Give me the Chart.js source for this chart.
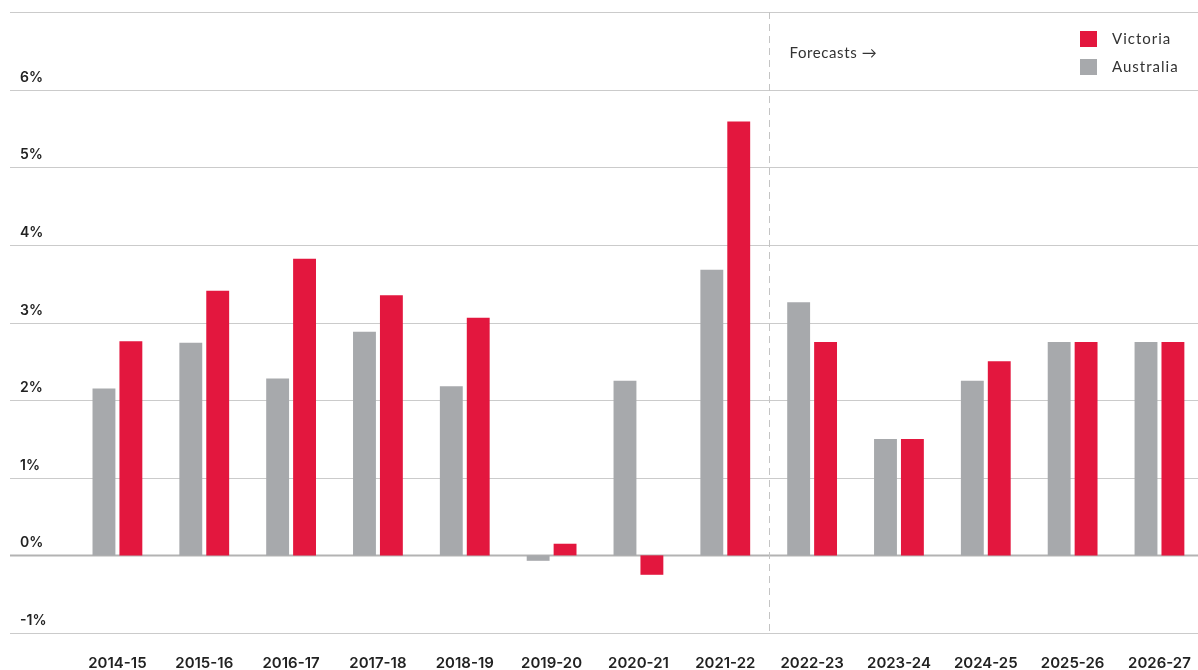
<!DOCTYPE html>
<html>
<head>
<meta charset="utf-8">
<script src="https://cdn.jsdelivr.net/npm/chart.js@4"></script>
<style>
  html, body { margin: 0; padding: 0; background: #fff; overflow: hidden; }
  #growthChart { display: block; }
</style>
</head>
<body>
<canvas id="growthChart" width="1212" height="700"></canvas>
<script>
const years = ['2014-15', '2015-16', '2016-17', '2017-18', '2018-19', '2019-20', '2020-21',
  '2021-22', '2022-23', '2023-24', '2024-25', '2025-26', '2026-27'];
const australia = [2.15, 2.74, 2.28, 2.88, 2.18, -0.07, 2.25, 3.68, 3.26, 1.5, 2.25, 2.75, 2.75];
const victoria = [2.76, 3.41, 3.82, 3.35, 3.06, 0.15, -0.25, 5.59, 2.75, 1.5, 2.5, 2.75, 2.75];
const yTicks = [-1, 0, 1, 2, 3, 4, 5, 6, 7];
const firstForecast = '2022-23';
const forecastLabel = 'Forecasts \u2192';

const RED = '#e3173e';
const GREY = '#a7a9ac';

// gridlines, % labels, forecast divider and legend are drawn by hand
const decorations = {
  id: 'decorations',
  beforeDatasetsDraw(chart) {
    const { ctx } = chart;
    const y = chart.scales.y;
    ctx.save();
    yTicks.forEach(v => {
      const py = Math.round(y.getPixelForValue(v)) + 0.5;
      ctx.beginPath();
      ctx.strokeStyle = v === 0 ? '#b3b3b3' : '#cbcbcb';
      ctx.lineWidth = v === 0 ? 2 : 1;
      ctx.moveTo(10, py);
      ctx.lineTo(1198, py);
      ctx.stroke();
      if (v < 7) {
        ctx.fillStyle = '#222';
        ctx.font = '600 14px Inter';
        ctx.textAlign = 'left';
        ctx.textBaseline = 'middle';
        ctx.fillText(v + '%', 20, py - 13);
      }
    });

    // forecast divider halfway between the last actual year and the first forecast
    const x = chart.scales.x;
    const idx = years.indexOf(firstForecast);
    const dx = Math.round((x.getPixelForValue(idx - 1) + x.getPixelForValue(idx)) / 2) + 0.5;
    ctx.beginPath();
    ctx.setLineDash([7, 5]);
    ctx.strokeStyle = '#c4c4c4';
    ctx.lineWidth = 1;
    ctx.moveTo(dx, y.getPixelForValue(7));
    ctx.lineTo(dx, y.getPixelForValue(-1));
    ctx.stroke();
    ctx.setLineDash([]);

    ctx.fillStyle = '#333';
    ctx.font = '15px Lato';
    ctx.letterSpacing = '0.6px';
    ctx.textAlign = 'left';
    ctx.textBaseline = 'middle';
    ctx.fillText(forecastLabel, dx + 20, 53);
    ctx.restore();
  },
  afterDraw(chart) {
    const { ctx } = chart;
    const items = chart.data.datasets.slice().reverse();
    ctx.save();
    ctx.font = '15px Lato';
    ctx.letterSpacing = '1px';
    ctx.textBaseline = 'middle';
    items.forEach((ds, i) => {
      const top = 31 + i * 28;
      ctx.fillStyle = ds.backgroundColor;
      ctx.fillRect(1080, top, 17, 16);
      ctx.fillStyle = '#333';
      ctx.fillText(ds.label, 1112, top + 8);
    });
    ctx.restore();
  }
};

new Chart(document.getElementById('growthChart'), {
  type: 'bar',
  data: {
    labels: years,
    datasets: [
      { label: 'Australia', data: australia, backgroundColor: GREY },
      { label: 'Victoria', data: victoria, backgroundColor: RED }
    ]
  },
  options: {
    responsive: false,
    animation: false,
    layout: { padding: { left: 74, right: 4, top: 12, bottom: 27 } },
    datasets: {
      bar: { categoryPercentage: 0.62, barPercentage: 0.85 }
    },
    plugins: {
      legend: { display: false },
      tooltip: { enabled: false }
    },
    scales: {
      x: {
        grid: { display: false, drawTicks: false },
        border: { display: false },
        afterFit(scale) { scale.height = 40; },
        ticks: {
          padding: 21,
          color: '#222',
          font: { family: 'Inter', size: 15, weight: 600 },
          maxRotation: 0,
          autoSkip: false
        }
      },
      y: {
        display: false,
        min: -1,
        max: 7,
        ticks: { stepSize: 1 }
      }
    }
  },
  plugins: [decorations]
});
</script>
</body>
</html>
